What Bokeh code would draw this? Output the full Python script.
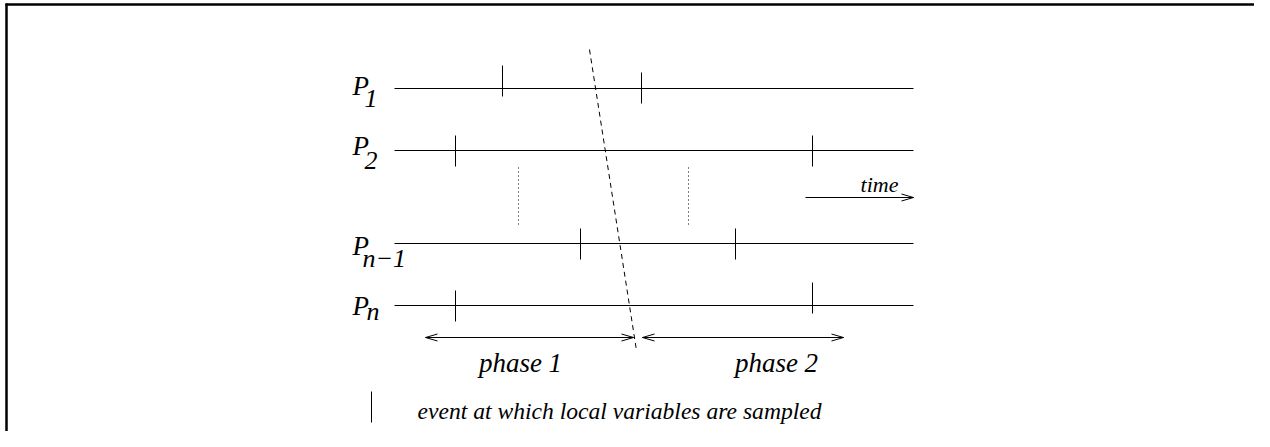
from bokeh.plotting import figure
from bokeh.models import Range1d
from bokeh.core.properties import value
from bokeh.embed import file_html
from bokeh.resources import INLINE

# ---------------- data (diagram coordinates: x = time, y = row position) ----------------
proc_main = ["P", "P", "P", "P"]
proc_sub = ["1", "2", "n\u22121", "n"]
proc_y = [88, 150, 243, 305]
time_start = 394
time_end = 913

# sampling events: process index, time
event_proc = [0, 0, 1, 1, 2, 2, 3, 3]
event_time = [502, 641, 455, 812, 580, 735, 455, 812]
event_up = [23, 16, 15, 15, 15, 15, 15, 23]
event_down = [8, 15, 16, 16, 16, 16, 16, 8]

# consistent cut (dashed)
cut_x = [589, 636]
cut_y = [49, 350]

# "..." between P2 and Pn-1
dots_x = [518, 688]
dots_y0 = [167, 167]
dots_y1 = [224, 224]

# time arrow
time_arrow_x = [805, 913]
time_arrow_y = 197
time_label = "time"

# phases
phase_names = ["phase 1", "phase 2"]
phase_x0 = [425, 642]
phase_x1 = [633, 843]
phase_y = 337
phase_label_x = [520, 776]
phase_label_y = 362

legend_text = "event at which local  variables are sampled"

# ---------------- figure ----------------
W, H = 1254, 431
p = figure(width=W, height=H, output_backend="svg", toolbar_location=None,
           x_range=Range1d(0, W), y_range=Range1d(H, 0),
           min_border=0, outline_line_color=None)
p.axis.visible = False
p.grid.visible = False
p.background_fill_color = "white"
p.border_fill_color = "white"

FONT = value("Liberation Serif")
BLK = "black"

# frame (top and left edges)
p.segment(x0=[5, 6], y0=[4, 3], x1=[W, 6], y1=[4, H], line_color=BLK, line_width=2.5)

# process timelines
p.segment(x0=[time_start] * 4, x1=[time_end] * 4, y0=proc_y, y1=proc_y,
          line_color=BLK, line_width=1)

# event ticks
ev_y = [proc_y[i] for i in event_proc]
p.segment(x0=event_time, x1=event_time,
          y0=[y - u for y, u in zip(ev_y, event_up)],
          y1=[y + d for y, d in zip(ev_y, event_down)],
          line_color=BLK, line_width=1)

# process labels
lab_main_dy = [-3, -5, 2, 0]
lab_sub_dy = [10, 10, 15, 6]
p.text(x=[352] * 4, y=[y + d for y, d in zip(proc_y, lab_main_dy)], text=proc_main,
       text_font=FONT, text_font_style="italic", text_font_size="27px",
       text_baseline="alphabetic", text_color=BLK)
p.text(x=[364, 364, 362, 366], y=[y + d for y, d in zip(proc_y, lab_sub_dy)], text=proc_sub,
       text_font=FONT, text_font_style="italic", text_font_size="26px",
       text_baseline="alphabetic", text_color=BLK)

# dashed cut
p.line(x=cut_x, y=cut_y, line_color=BLK, line_width=1, line_dash="5 4")

# dotted ellipses
p.segment(x0=dots_x, x1=dots_x, y0=dots_y0, y1=dots_y1, line_color=BLK,
          line_width=1, line_dash="1 3")

# arrows helper (open, narrow heads)
HL, HW = 12, 3.5
def heads(xs, ys, dirs):
    x0, y0, x1, y1 = [], [], [], []
    for x, y, d in zip(xs, ys, dirs):
        for s in (-1, 1):
            x0.append(x); y0.append(y)
            x1.append(x - d * HL); y1.append(y + s * HW)
    return x0, y0, x1, y1

# time arrow
p.segment(x0=[time_arrow_x[0]], x1=[time_arrow_x[1]], y0=[time_arrow_y], y1=[time_arrow_y],
          line_color=BLK, line_width=1)
hx0, hy0, hx1, hy1 = heads([time_arrow_x[1]], [time_arrow_y], [1])
p.segment(x0=hx0, y0=hy0, x1=hx1, y1=hy1, line_color=BLK, line_width=1)
p.text(x=[879], y=[184], text=[time_label], text_font=FONT, text_font_style="italic",
       text_font_size="22px", text_align="center", text_baseline="alphabetic", text_color=BLK)

# phase arrows
p.segment(x0=phase_x0, x1=phase_x1, y0=[phase_y] * 2, y1=[phase_y] * 2,
          line_color=BLK, line_width=1)
hx0, hy0, hx1, hy1 = heads(phase_x0 + phase_x1, [phase_y] * 4, [-1, -1, 1, 1])
p.segment(x0=hx0, y0=hy0, x1=hx1, y1=hy1, line_color=BLK, line_width=1)
p.text(x=phase_label_x, y=[phase_label_y] * 2, text=phase_names, text_font=FONT,
       text_font_style="italic", text_font_size="27px", text_align="center",
       text_baseline="alphabetic", text_color=BLK)

# legend
p.segment(x0=[371], x1=[371], y0=[391], y1=[422], line_color=BLK, line_width=1)
p.text(x=[417], y=[410], text=[legend_text], text_font=FONT, text_font_style="italic",
       text_font_size="23.6px", text_baseline="alphabetic", text_color=BLK)

open("out.html", "w").write(file_html(p, INLINE))
